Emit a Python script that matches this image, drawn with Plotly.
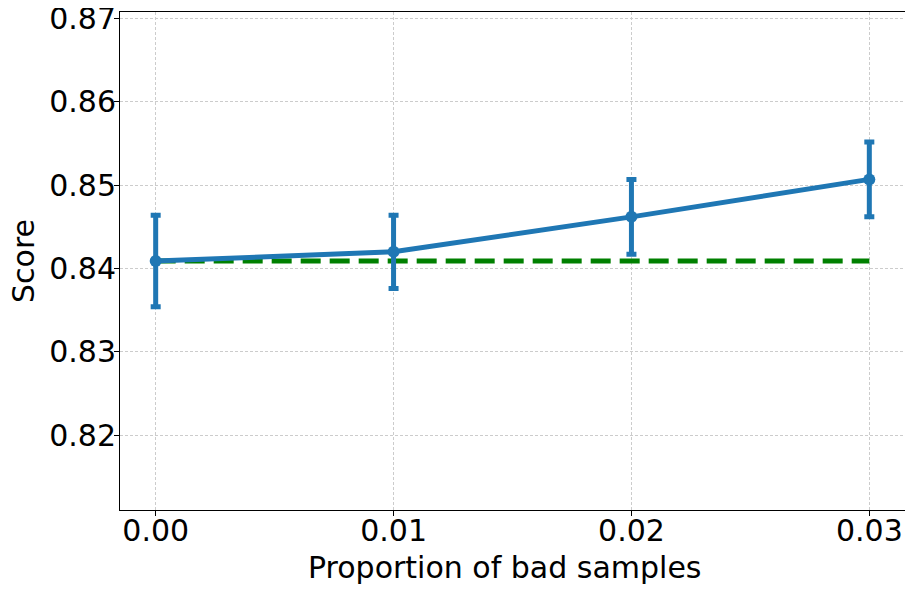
import plotly.graph_objects as go

proportions = [0.00, 0.01, 0.02, 0.03]
scores = [0.8409, 0.8420, 0.8462, 0.8507]
score_err = [0.0055, 0.0044, 0.0045, 0.0045]
baseline = [0.8409, 0.8409, 0.8409, 0.8409]
x_ticks = [0.00, 0.01, 0.02, 0.03]
x_tick_labels = ["0.00", "0.01", "0.02", "0.03"]
y_ticks = [0.82, 0.83, 0.84, 0.85, 0.86, 0.87]
y_tick_labels = ["0.82", "0.83", "0.84", "0.85", "0.86", "0.87"]

fig = go.Figure()
fig.add_trace(go.Scatter(
    x=proportions, y=baseline, mode="lines",
    line=dict(color="#008000", width=5, dash="20px,9px"),
    showlegend=False, hoverinfo="skip",
))
fig.add_trace(go.Scatter(
    x=proportions, y=scores, mode="lines+markers",
    line=dict(color="#1f77b4", width=5),
    marker=dict(color="#1f77b4", size=12),
    error_y=dict(type="data", array=score_err, visible=True,
                 color="#1f77b4", thickness=5, width=5),
    showlegend=False,
))

font = "DejaVu Sans, sans-serif"
axis_common = dict(
    showline=True, linecolor="black", linewidth=1, mirror=True,
    ticks="outside", ticklen=5, tickwidth=1, tickcolor="black",
    showgrid=True, gridcolor="#cccccc", gridwidth=1, griddash="3px,2px",
    zeroline=False, automargin=False, ticklabeloverflow="allow",
    tickfont=dict(family=font, size=30, color="black"),
)
# page body adds an 8px offset; figure is sized to fill the rest of the window
fig.update_layout(
    width=905, height=584,
    margin=dict(l=112, r=8, t=4, b=82),
    paper_bgcolor="white", plot_bgcolor="white",
    xaxis=dict(range=[-0.0015, 0.0315], tickvals=x_ticks, ticktext=x_tick_labels,
               ticklabelstandoff=-11, **axis_common),
    yaxis=dict(range=[0.811, 0.8708], tickvals=y_ticks, ticktext=y_tick_labels,
               ticklabelstandoff=-8, **axis_common),
    annotations=[
        dict(text="Proportion of bad samples", xref="paper", yref="paper",
             x=0.49, y=-57 / 498, xanchor="center", yanchor="middle",
             showarrow=False, font=dict(family=font, size=30, color="black")),
        dict(text="Score", xref="paper", yref="paper",
             x=-97 / 785, y=0.5, xanchor="center", yanchor="middle", textangle=-90,
             showarrow=False, font=dict(family=font, size=30, color="black")),
    ],
)
fig.write_html("out.html")
